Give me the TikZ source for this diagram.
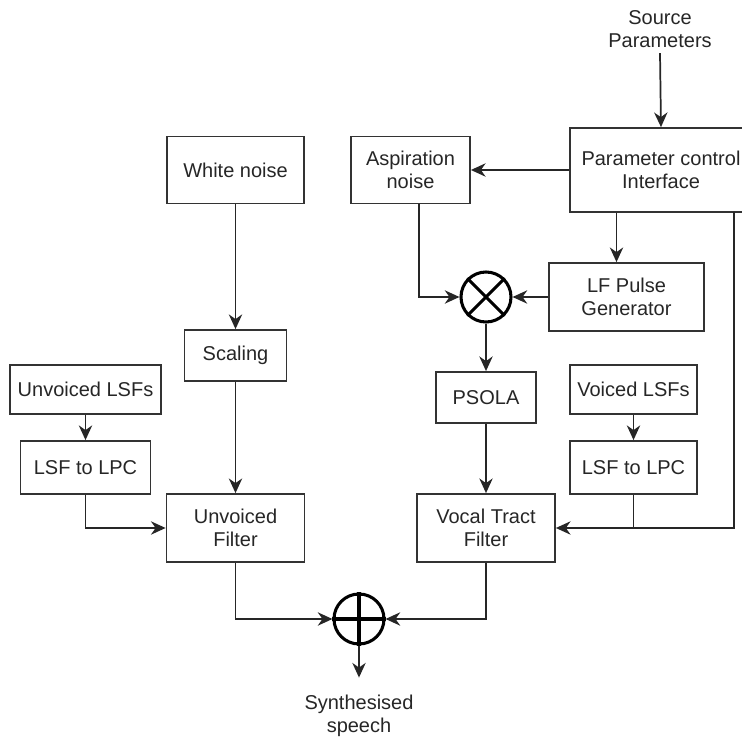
\documentclass[tikz,border=0pt]{standalone}
\usepackage{fontspec}
\setmainfont{Liberation Sans}
\usetikzlibrary{arrows.meta}

\begin{document}
\begin{tikzpicture}[
  x=0.75pt,y=-0.75pt,
  block/.style={draw=black!80,line width=1.3pt,align=center,inner sep=0pt,
    text=black!85,font=\fontsize{15}{17.25}\selectfont},
  label/.style={align=center,inner sep=0pt,text=black!85,font=\fontsize{15}{17.25}\selectfont},
  mixer/.style={circle,draw=black,line width=2.3pt,minimum size=37.5pt,inner sep=0pt},
  arrow/.style={-{Stealth[length=11pt,width=10pt,inset=3.5pt]},draw=black!85,line width=1.3pt},
  line/.style={draw=black!85,line width=1.3pt},
]
\useasboundingbox (0,0) rectangle (742,737);
\clip (0,0) rectangle (742,737);

\node[label] (src) at (660,29) {Source\\Parameters};
\node[block,minimum width=136.5pt,minimum height=63pt] (param) at (661,170) {Parameter control\\Interface};
\node[block,minimum width=89.3pt,minimum height=50.3pt] (asp) at (410.5,170) {Aspiration\\noise};
\node[block,minimum width=102.8pt,minimum height=50.3pt] (white) at (235.5,170) {White noise};
\node[block,minimum width=116.3pt,minimum height=51pt] (lf) at (626.5,297) {LF Pulse\\Generator};
\node[mixer] (mult) at (486,297) {};
\draw[line width=2.3pt] (mult.45) -- (mult.225) (mult.135) -- (mult.315);
\node[block,minimum width=75pt,minimum height=38.3pt] (psola) at (486,397.5) {PSOLA};
\node[block,minimum width=103.5pt,minimum height=51pt] (vocal) at (486,528) {Vocal Tract\\Filter};
\node[block,minimum width=95.3pt,minimum height=36.8pt] (vlsf) at (633.5,389.5) {Voiced LSFs};
\node[block,minimum width=95.3pt,minimum height=39.8pt] (vlpc) at (633.5,467.5) {LSF to LPC};
\node[block,minimum width=76.5pt,minimum height=38.3pt] (scale) at (235.5,355.5) {Scaling};
\node[block,minimum width=103.5pt,minimum height=51pt] (unvf) at (235.5,528) {Unvoiced\\Filter};
\node[block,minimum width=113.3pt,minimum height=36.8pt] (ulsf) at (85.5,389.5) {Unvoiced LSFs};
\node[block,minimum width=97.5pt,minimum height=39.8pt] (ulpc) at (85.5,467.5) {LSF to LPC};
\node[mixer] (sum) at (359,619) {};
\draw[line width=2.3pt] (sum.north) -- (sum.south) (sum.west) -- (sum.east);
\node[label] (out) at (359,716) {Synthesised\\speech};
\coordinate (rail) at (734,212);

\draw[arrow] ([yshift=-4pt]src.south) -- (param.north);
\draw[arrow] (param.west) -- (asp.east);
\draw[arrow] ([xshift=-7.5pt]lf.north |- param.south) -- ([xshift=-7.5pt]lf.north);
\draw[arrow] ([xshift=6.5pt]asp.south) |- (mult.west);
\draw[arrow] (lf.west) -- (mult.east);
\draw[arrow] (mult.south) -- (psola.north);
\draw[arrow] (psola.south) -- (vocal.north);
\draw[arrow] (white.south) -- (scale.north);
\draw[arrow] (scale.south) -- (unvf.north);
\draw[arrow] (ulsf.south) -- (ulpc.north);
\draw[arrow] (ulpc.south) |- (unvf.west);
\draw[arrow] (vlsf.south) -- (vlpc.north);
\draw[line] (vlpc.south) -- (vlpc.south |- vocal.east);
\draw[arrow] (rail) |- (vocal.east);
\draw[arrow] (unvf.south) |- (sum.west);
\draw[arrow] (vocal.south) |- (sum.east);
\draw[arrow] (sum.south) -- ([yshift=13pt]out.north);
\end{tikzpicture}
\end{document}
